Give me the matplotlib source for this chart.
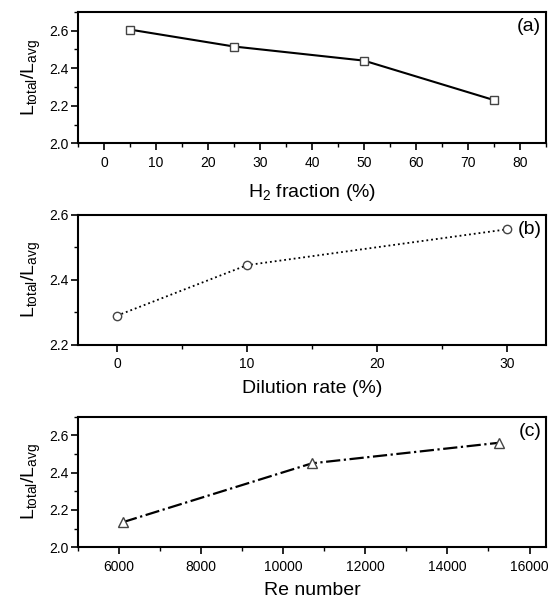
import matplotlib
matplotlib.use("Agg")
from matplotlib import pyplot as plt
from matplotlib.ticker import MultipleLocator, FormatStrFormatter

plt.rcParams['font.family'] = ['Liberation Sans', 'DejaVu Sans']
plt.rcParams['mathtext.default'] = 'regular'

# (a) hydrogen fraction
h2_frac = [5, 25, 50, 75]
ratio_h2 = [2.605, 2.515, 2.44, 2.23]

# (b) dilution rate
dilution = [0, 10, 30]
ratio_dil = [2.29, 2.445, 2.555]

# (c) Reynolds number
re_num = [6100, 10700, 15250]
ratio_re = [2.135, 2.45, 2.56]

ylab = r'L$_{total}$/L$_{avg}$'

fig = plt.figure(figsize=(5.48, 6.05), dpi=100)
ax1 = fig.add_axes([0.1423, 0.7631, 0.854, 0.2175])
ax2 = fig.add_axes([0.1423, 0.4298, 0.854, 0.2154])
ax3 = fig.add_axes([0.1423, 0.0954, 0.854, 0.2159])

mk = dict(markerfacecolor='white', markeredgecolor='#444444', markeredgewidth=1.0)

ax1.plot(h2_frac, ratio_h2, '-', color='black', lw=1.5, marker='s', markersize=6, **mk)
ax2.plot(dilution, ratio_dil, ':', color='black', lw=1.3, marker='o', markersize=6, **mk)
ax3.plot(re_num, ratio_re, '-.', color='black', lw=1.6, marker='^', markersize=7, **mk)

ax1.set_xlim(-5, 85)
ax1.set_ylim(2.0, 2.7)
ax1.xaxis.set_major_locator(MultipleLocator(10))
ax1.xaxis.set_minor_locator(MultipleLocator(5))
ax1.yaxis.set_major_locator(MultipleLocator(0.2))
ax1.yaxis.set_minor_locator(MultipleLocator(0.1))
ax1.set_xlabel(r'H$_2$ fraction (%)', fontsize=14, labelpad=9)

ax2.set_xlim(-3, 33)
ax2.set_ylim(2.2, 2.6)
ax2.xaxis.set_major_locator(MultipleLocator(10))
ax2.xaxis.set_minor_locator(MultipleLocator(5))
ax2.yaxis.set_major_locator(MultipleLocator(0.2))
ax2.yaxis.set_minor_locator(MultipleLocator(0.1))
ax2.set_xlabel('Dilution rate (%)', fontsize=14, labelpad=6)

ax3.set_xlim(5000, 16400)
ax3.set_ylim(2.0, 2.7)
ax3.xaxis.set_major_locator(MultipleLocator(2000))
ax3.xaxis.set_minor_locator(MultipleLocator(1000))
ax3.yaxis.set_major_locator(MultipleLocator(0.2))
ax3.yaxis.set_minor_locator(MultipleLocator(0.1))
ax3.set_xlabel('Re number', fontsize=14, labelpad=6)

for ax, tag in zip([ax1, ax2, ax3], ['(a)', '(b)', '(c)']):
    ax.set_ylabel(ylab, fontsize=14, labelpad=4)
    ax.yaxis.set_major_formatter(FormatStrFormatter('%.1f'))
    ax.tick_params(which='major', direction='out', length=5, width=1.2, labelsize=10, pad=2)
    ax.tick_params(axis='x', which='major', pad=4)
    ax.tick_params(which='minor', direction='out', length=3, width=1.0)
    for s in ax.spines.values():
        s.set_linewidth(1.5)
    ax.text(0.99, 0.95, tag, transform=ax.transAxes, ha='right', va='top', fontsize=14)

fig.savefig('out.png', dpi=100)
